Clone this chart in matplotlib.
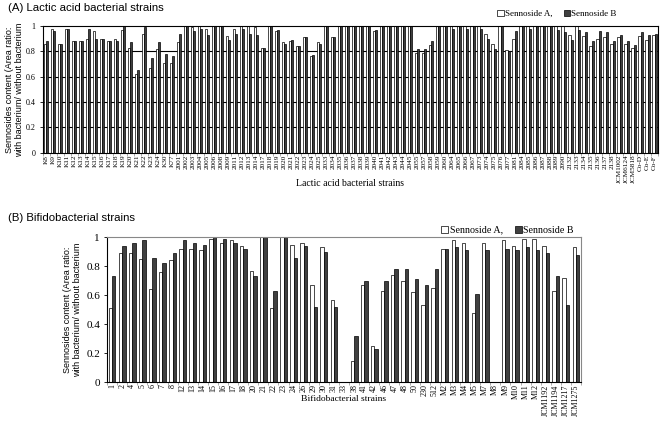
import numpy as np
import matplotlib
matplotlib.use('Agg')
import matplotlib.pyplot as plt
from matplotlib.patches import Patch

plt.rcParams['font.family'] = 'Liberation Serif'

# (A) lactic acid bacterial strains
lab_strains = ['K8', 'K9', 'K10', 'K11', 'K12', 'K13', 'K14', 'K15', 'K16', 'K17',
               'K18', 'K19', 'K20', 'K21', 'K22', 'K23', 'K24', 'K30', 'K77',
               '2001', '2002', '2003', '2004', '2005', '2006', '2008', '2009', '2011',
               '2012', '2013', '2014', '2017', '2018', '2019', '2020', '2021', '2022',
               '2023', '2024', '2025', '2033', '2034', '2035', '2036', '2037', '2038',
               '2039', '2040', '2041', '2042', '2043', '2044', '2045', '2055', '2057',
               '2058', '2059', '2060', '2064', '2065', '2066', '2067', '2073', '2074',
               '2075', '2076', '2077', '2081', '2084', '2085', '2086', '2087', '2088',
               '2089', '2090', '2132', '2133', '2134', '2135', '2136', '2137', '2138',
               'JCM1002', 'JCM6124', 'JCM5818', 'Co-D', 'Co-E', 'Co-F']
lab_sen_a = [0.86, 0.98, 0.86, 0.98, 0.88, 0.88, 0.90, 0.96, 0.90, 0.88,
             0.90, 0.97, 0.83, 0.62, 0.94, 0.67, 0.82, 0.71, 0.71,
             0.87, 1.00, 0.99, 1.00, 0.98, 1.00, 1.00, 0.92, 0.98,
             1.00, 1.00, 0.99, 0.83, 1.00, 0.96, 0.87, 0.88, 0.84,
             0.91, 0.76, 0.87, 1.00, 0.91, 1.00, 1.00, 1.00, 1.00,
             1.00, 0.96, 1.00, 1.00, 1.00, 1.00, 1.00, 0.79, 0.79,
             0.85, 1.00, 1.00, 1.00, 1.00, 1.00, 1.00, 1.00, 0.94,
             0.86, 1.00, 0.81, 0.90, 1.00, 1.00, 1.00, 1.00, 1.00,
             1.00, 1.00, 0.93, 1.00, 0.92, 0.84, 0.90, 0.91, 0.86,
             0.91, 0.86, 0.83, 0.92, 0.89, 0.93]
lab_sen_b = [0.88, 0.96, 0.86, 0.98, 0.88, 0.88, 0.98, 0.90, 0.90, 0.88,
             0.88, 1.00, 0.87, 0.65, 0.99, 0.75, 0.87, 0.78, 0.76,
             0.94, 1.00, 0.96, 0.98, 0.93, 1.00, 1.00, 0.89, 0.94,
             0.98, 0.94, 0.93, 0.83, 1.00, 0.97, 0.86, 0.89, 0.84,
             0.91, 0.77, 0.86, 1.00, 0.91, 1.00, 1.00, 1.00, 1.00,
             1.00, 0.97, 1.00, 1.00, 1.00, 1.00, 1.00, 0.82, 0.82,
             0.88, 1.00, 1.00, 0.98, 1.00, 0.98, 1.00, 0.98, 0.90,
             0.82, 1.00, 0.80, 0.96, 1.00, 0.98, 1.00, 1.00, 1.00,
             0.97, 0.95, 0.89, 0.97, 0.95, 0.88, 0.96, 0.95, 0.88,
             0.93, 0.88, 0.85, 0.95, 0.93, 0.94]

# (B) bifidobacterial strains
bif_strains = ['1', '2', '4', '5', '6', '7', '8', '12', '13', '14', '15', '16', '17',
               '18', '20', '21', '22', '23', '24', '26', '29', '30', '31', '33', '38',
               '41', '42', '46', '47', '48', '50', '230', '512', 'M2', 'M3', 'M4',
               'M5', 'M7', 'M8', 'M9', 'M10', 'M11', 'M12', 'JCM1192', 'JCM1194',
               'JCM1217', 'JCM1275']
bif_sen_a = [0.51, 0.89, 0.89, 0.85, 0.64, 0.76, 0.84, 0.92, 0.92, 0.91, 0.99, 0.96, 0.98,
             0.94, 0.77, 1.00, 0.51, 1.00, 0.95, 0.96, 0.67, 0.93, 0.57, 0.0, 0.15,
             0.67, 0.25, 0.63, 0.74, 0.70, 0.62, 0.53, 0.65, 0.92, 0.98, 0.96,
             0.48, 0.96, 0.0, 0.98, 0.94, 0.99, 0.99, 0.94, 0.63,
             0.72, 0.93]
bif_sen_b = [0.73, 0.94, 0.96, 0.98, 0.86, 0.82, 0.89, 0.98, 0.96, 0.95, 1.00, 0.99, 0.96,
             0.92, 0.73, 1.00, 0.63, 1.00, 0.86, 0.94, 0.52, 0.90, 0.52, 0.0, 0.32,
             0.70, 0.23, 0.70, 0.78, 0.78, 0.71, 0.67, 0.78, 0.92, 0.93, 0.91,
             0.61, 0.91, 0.0, 0.92, 0.91, 0.93, 0.91, 0.89, 0.73,
             0.53, 0.88]

dark = '#404040'
sans = 'Liberation Sans'
ylab = 'Sennosides content (Area ratio:\nwith bacterium/ without bacterium'

fig = plt.figure(figsize=(6.61, 4.22), dpi=100)


def draw_panel(ax, names, a, b, width, xfont, yfont, grid):
    x = np.arange(len(names))
    if grid:
        for g in [0.2, 0.4, 0.6, 0.8]:
            ax.axhline(g, color='black', lw=0.8, zorder=0)
    ax.bar(x - width / 2, a, width, color='white', edgecolor='black', lw=0.5, zorder=2)
    ax.bar(x + width / 2, b, width, color=dark, edgecolor='black', lw=0.5, zorder=2)
    ax.set_xlim(-0.5, len(names) - 0.5)
    ax.set_ylim(0, 1)
    ax.set_yticks([0, 0.2, 0.4, 0.6, 0.8, 1.0])
    ax.set_yticklabels(['0', '0.2', '0.4', '0.6', '0.8', '1'], fontsize=yfont)
    ax.set_xticks(x)
    ax.set_xticklabels(names, rotation=90, fontsize=xfont)
    ax.set_xticks(np.arange(len(names) + 1) - 0.5, minor=True)
    ax.tick_params(axis='x', which='major', length=0, pad=1.5)
    ax.tick_params(axis='x', which='minor', length=2, width=0.5, color='#888888')
    ax.tick_params(axis='y', length=2, width=0.6, pad=3)
    for s in ax.spines.values():
        s.set_linewidth(0.8)
    ax.set_ylabel(ylab, family=sans, fontsize=6.5, linespacing=1.2)


# panel A
axA = fig.add_axes([0.0646, 0.6382, 0.9309, 0.3002])
draw_panel(axA, lab_strains, lab_sen_a, lab_sen_b, 0.32, 5.2, 5.8, True)
axA.yaxis.set_label_coords(-0.030, 0.5)
axA.set_xlabel('Lactic acid bacterial strains', fontsize=7)
axA.xaxis.set_label_coords(0.5, -0.21)
fig.text(0.012, 0.982, '(A) Lactic acid bacterial strains', family=sans, fontsize=8.2,
         va='center', ha='left')
hA = [Patch(facecolor='white', edgecolor='black', lw=0.5),
      Patch(facecolor=dark, edgecolor='black', lw=0.5)]
axA.legend(hA, ['Sennoside A,', 'Sennoside B'], ncol=2, frameon=False, fontsize=6.5,
           handlelength=0.7, handleheight=0.7, handletextpad=0.15, columnspacing=1.2,
           loc='center right', bbox_to_anchor=(0.94, 1.095), borderpad=0)

# panel B
axB = fig.add_axes([0.1619, 0.0941, 0.7171, 0.3436])
draw_panel(axB, bif_strains, bif_sen_a, bif_sen_b, 0.34, 5.8, 8, False)
axB.spines['top'].set_color('#888888')
axB.spines['right'].set_color('#888888')
axB.yaxis.set_label_coords(-0.052, 0.5)
axB.set_xlabel('Bifidobacterial strains', fontsize=6.8)
axB.xaxis.set_label_coords(0.5, -0.09)
fig.text(0.012, 0.483, '(B) Bifidobacterial strains', family=sans, fontsize=8.2,
         va='center', ha='left')
axB.legend(hA, ['Sennoside A,', 'Sennoside B'], ncol=2, frameon=False, fontsize=7.2,
           handlelength=0.7, handleheight=0.7, handletextpad=0.15, columnspacing=1.2,
           loc='center right', bbox_to_anchor=(0.995, 1.05), borderpad=0)

fig.savefig('out.png', dpi=100)
